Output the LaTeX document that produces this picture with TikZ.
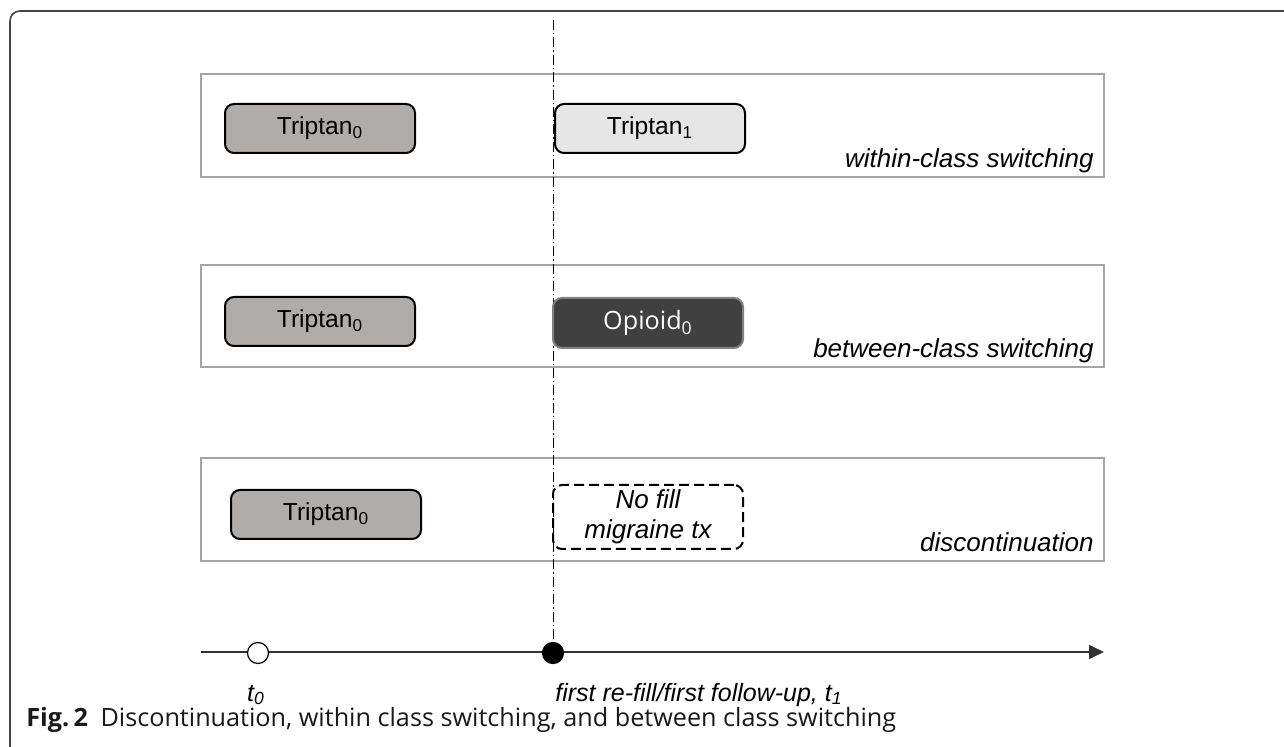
\documentclass[tikz,border=0pt]{standalone}
\usepackage{fontspec}
\setmainfont{Liberation Sans}
\newfontfamily\capfont{Open Sans}
\usetikzlibrary{arrows.meta}
\definecolor{tripA}{RGB}{176,172,170}
\definecolor{tripB}{RGB}{230,230,230}
\definecolor{opi}{RGB}{64,64,64}
\definecolor{opiborder}{RGB}{128,128,128}
\definecolor{grpline}{RGB}{165,165,165}
\definecolor{frameline}{RGB}{70,70,70}
\begin{document}
\begin{tikzpicture}[x=0.5pt,y=-0.5pt,
  grp/.style={draw=grpline, line width=0.75pt, minimum width=451.5pt, minimum height=51.5pt, inner sep=0pt},
  drug/.style={draw=black, line width=1pt, rounded corners=4.5pt, minimum width=95pt, minimum height=24.5pt, inner sep=0pt, font=\fontsize{12.3}{14}\selectfont},
  lbl/.style={font=\fontsize{13}{15}\selectfont\itshape, inner sep=0pt},
  axlbl/.style={font=\fontsize{12.5}{15}\selectfont\itshape, inner sep=0pt},
  dot/.style={circle, draw=black, line width=0.6pt, minimum size=10.5pt, inner sep=0pt},
  dashdotline/.style={line width=0.5pt, dash pattern=on 5pt off 1.5pt on 0.7pt off 1.5pt},
]
\useasboundingbox (0,0) rectangle (1284,747);
\clip (0,0) rectangle (1284,747);
% outer frame
\draw[line width=0.8pt, draw=frameline, rounded corners=5pt] (1300,11) -- (10,11) -- (10,757) -- (40,757);
% group boxes
\node[grp] (g1) at (652.5,125.5) {};
\node[grp, minimum height=51pt] (g2) at (652.5,316) {};
\node[grp] (g3) at (652.5,509.5) {};
% dash-dot vertical line
\coordinate (vtop) at (553,20);
% axis
\coordinate (axs) at (201,652);
\coordinate (axe) at (1104,652);
\draw[line width=0.75pt, draw=black!80, -{Triangle[length=7.5pt,width=7pt]}] (axs) -- (axe);
\node[dot, fill=black] (t1dot) at (553,653) {};
\draw[dashdotline] (vtop) -- (t1dot);
\node[dot, fill=white] (t0dot) at (258,653) {};
% drug boxes
\node[drug, fill=tripA] (a1) at (320,128.5) {Triptan\textsubscript{0}};
\node[drug, fill=tripB] (b1) at (650,128.5) {Triptan\textsubscript{1}};
\node[drug, fill=tripA] (a2) at (320,321.5) {Triptan\textsubscript{0}};
\node[drug, fill=opi, draw=opiborder, text=white, minimum height=25pt, font=\capfont\fontsize{12.6}{14}\selectfont] (b2) at (648,323) {Opioid\textsubscript{0}};
\node[drug, fill=tripA] (a3) at (326,514.5) {Triptan\textsubscript{0}};
\node[drug, dashed, dash pattern=on 5pt off 2.5pt, minimum height=32pt, align=center, font=\fontsize{13}{15}\selectfont\itshape] (b3) at (648,517) {No fill\\migraine tx};
% group labels
\node[lbl, anchor=base east] (l1) at (1094,168) {within-class switching};
\node[lbl, anchor=base east] (l2) at (1094,358) {between-class switching};
\node[lbl, anchor=base east] (l3) at (1094,552) {discontinuation};
% axis labels
\node[axlbl, anchor=base] (t0) at (256,701) {t\textsubscript{0}};
\node[axlbl, anchor=base west] (t1) at (555,701) {first re-fill/first follow-up, t\textsubscript{1}};
% caption
\node[anchor=base west, inner sep=0pt, text=black!90, font=\capfont\fontsize{12.6}{14}\selectfont] (cap) at (26,726) {\textbf{Fig.\,2}\hspace{0.5em}Discontinuation, within class switching, and between class switching};
\end{tikzpicture}
\end{document}
